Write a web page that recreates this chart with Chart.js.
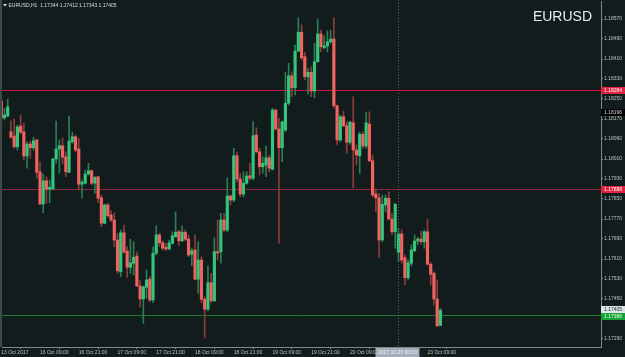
<!DOCTYPE html>
<html><head><meta charset="utf-8">
<style>
html,body{margin:0;padding:0;background:#121c1c;overflow:hidden}
#wrap{position:relative;width:625px;height:357px}
canvas{display:block}
</style>
<script src="https://cdn.jsdelivr.net/npm/chart.js@4.4.1/dist/chart.umd.min.js"></script>
</head><body><div id="wrap"><canvas id="c" width="625" height="357"></canvas></div>
<script>
// ---- data (EURUSD H1, 13 Oct 2017 21:00 -> 23 Oct 2017 13:00) ----
const symbolName = "EURUSD";
const headerText = "EURUSD,H1  1.17344 1.17412 1.17343 1.17405";
const opens = [1.18243,1.18175,1.18182,1.18119,1.18102,1.18059,1.18142,1.18119,1.18022,1.18070,
1.18055,1.18086,1.17959,1.17830,1.17923,1.17889,1.17890,1.18010,1.18050,1.18063,
1.18019,1.17957,1.18079,1.18099,1.18050,1.17909,1.17913,1.17950,1.17963,1.17913,
1.17939,1.17855,1.17753,1.17826,1.17786,1.17766,1.17686,1.17559,1.17715,1.17642,
1.17577,1.17593,1.17622,1.17502,1.17450,1.17497,1.17529,1.17446,1.17633,1.17706,
1.17675,1.17657,1.17650,1.17673,1.17699,1.17719,1.17683,1.17717,1.17690,1.17629,
1.17646,1.17529,1.17606,1.17449,1.17409,1.17515,1.17443,1.17639,1.17639,1.17766,
1.17726,1.17862,1.17846,1.18023,1.17930,1.17870,1.17913,1.17943,1.17933,1.18106,
1.18039,1.17979,1.17986,1.18015,1.17969,1.18206,1.18130,1.18055,1.18126,1.18233,
1.18343,1.18295,1.18442,1.18517,1.18419,1.18339,1.18357,1.18282,1.18399,1.18510,
1.18455,1.18462,1.18479,1.18490,1.18223,1.18086,1.18179,1.18143,1.18077,1.18155,
1.18046,1.18023,1.18109,1.18062,1.18150,1.18003,1.17870,1.17855,1.17686,1.17826,
1.17853,1.17770,1.17719,1.17637,1.17710,1.17615,1.17535,1.17593,1.17643,1.17682,
1.17690,1.17679,1.17719,1.17589,1.17553,1.17450,1.17344];
const highs = [1.18246,1.18213,1.18250,1.18163,1.18170,1.18146,1.18186,1.18153,1.18079,1.18082,
1.18097,1.18089,1.17999,1.17950,1.17939,1.17926,1.18013,1.18162,1.18086,1.18095,
1.18039,1.18182,1.18117,1.18106,1.18093,1.17926,1.17966,1.17993,1.17966,1.17939,
1.17942,1.17866,1.17830,1.17833,1.17803,1.17795,1.17713,1.17726,1.17746,1.17659,
1.17689,1.17679,1.17638,1.17526,1.17502,1.17566,1.17539,1.17659,1.17743,1.17713,
1.17683,1.17673,1.17686,1.17719,1.17799,1.17726,1.17743,1.17726,1.17706,1.17653,
1.17706,1.17679,1.17619,1.17459,1.17582,1.17553,1.17695,1.17766,1.17793,1.17793,
1.17935,1.17866,1.18053,1.18039,1.17953,1.17959,1.17959,1.17993,1.18159,1.18135,
1.18053,1.18019,1.18062,1.18026,1.18213,1.18209,1.18173,1.18162,1.18357,1.18393,
1.18359,1.18466,1.18575,1.18546,1.18437,1.18373,1.18379,1.18473,1.18570,1.18526,
1.18503,1.18523,1.18526,1.18575,1.18226,1.18186,1.18202,1.18159,1.18162,1.18259,
1.18066,1.18119,1.18119,1.18197,1.18199,1.18026,1.17890,1.17873,1.17866,1.17866,
1.17879,1.17793,1.17833,1.17733,1.17726,1.17626,1.17606,1.17666,1.17706,1.17697,
1.17722,1.17726,1.17770,1.17597,1.17559,1.17526,1.17412];
const lows = [1.18097,1.18166,1.18179,1.18093,1.18053,1.18046,1.18110,1.18006,1.17973,1.18013,
1.18046,1.17933,1.17827,1.17795,1.17833,1.17835,1.17889,1.17993,1.17953,1.17990,
1.17939,1.17955,1.18073,1.18039,1.17886,1.17853,1.17910,1.17946,1.17906,1.17873,
1.17835,1.17739,1.17750,1.17777,1.17759,1.17659,1.17553,1.17539,1.17633,1.17537,
1.17553,1.17546,1.17499,1.17417,1.17353,1.17453,1.17439,1.17435,1.17626,1.17659,
1.17646,1.17643,1.17646,1.17670,1.17697,1.17663,1.17679,1.17683,1.17619,1.17583,
1.17526,1.17473,1.17435,1.17294,1.17402,1.17435,1.17439,1.17606,1.17593,1.17719,
1.17719,1.17826,1.17839,1.17919,1.17859,1.17859,1.17909,1.17926,1.17926,1.18033,
1.17946,1.17953,1.17939,1.17959,1.17966,1.18126,1.17673,1.17999,1.18119,1.18226,
1.18259,1.18266,1.18439,1.18406,1.18326,1.18269,1.18259,1.18255,1.18397,1.18439,
1.18450,1.18439,1.18473,1.18213,1.18066,1.18079,1.18139,1.18033,1.18069,1.17895,
1.17986,1.17953,1.18053,1.18053,1.17999,1.17859,1.17799,1.17615,1.17679,1.17799,
1.17766,1.17706,1.17653,1.17599,1.17593,1.17506,1.17526,1.17583,1.17639,1.17666,
1.17669,1.17653,1.17586,1.17506,1.17426,1.17339,1.17343];
const closes = [1.18173,1.18186,1.18219,1.18097,1.18059,1.18138,1.18117,1.18022,1.18070,1.18055,
1.18083,1.17957,1.17830,1.17923,1.17889,1.17897,1.18010,1.18050,1.18063,1.18017,
1.17959,1.18082,1.18099,1.18046,1.17909,1.17917,1.17950,1.17963,1.17913,1.17937,
1.17853,1.17753,1.17826,1.17783,1.17766,1.17686,1.17563,1.17715,1.17637,1.17577,
1.17595,1.17617,1.17502,1.17450,1.17499,1.17526,1.17446,1.17633,1.17706,1.17675,
1.17653,1.17650,1.17675,1.17703,1.17717,1.17683,1.17717,1.17689,1.17626,1.17643,
1.17529,1.17606,1.17449,1.17409,1.17515,1.17443,1.17639,1.17634,1.17766,1.17726,
1.17862,1.17846,1.18023,1.17930,1.17870,1.17913,1.17942,1.17933,1.18103,1.18039,
1.17979,1.17993,1.18015,1.17973,1.18206,1.18130,1.18055,1.18159,1.18233,1.18343,
1.18295,1.18442,1.18517,1.18415,1.18339,1.18357,1.18282,1.18399,1.18510,1.18459,
1.18463,1.18479,1.18490,1.18223,1.18086,1.18179,1.18143,1.18077,1.18157,1.18046,
1.18026,1.18109,1.18062,1.18155,1.18003,1.17866,1.17855,1.17686,1.17829,1.17853,
1.17770,1.17719,1.17829,1.17710,1.17606,1.17535,1.17595,1.17646,1.17682,1.17690,
1.17679,1.17719,1.17589,1.17549,1.17450,1.17343,1.17405];

const yTickValues = [1.18570,1.18490,1.18410,1.18330,1.18250,1.18170,1.18090,1.18010,1.17930,
  1.17850,1.17770,1.17690,1.17610,1.17530,1.17450,1.17370,1.17290];
const xTickBars = [0,12,24,36,48,60,72,84,96,108,120,132];
const xTickLabels = ["13 Oct 2017","16 Oct 09:00","16 Oct 21:00","17 Oct 09:00","17 Oct 21:00",
  "18 Oct 09:00","18 Oct 21:00","19 Oct 09:00","19 Oct 21:00","20 Oct 09:00","20 Oct 21:00","23 Oct 09:00"];
const redLevels = [1.18284, 1.17888];
const greenLevel = 1.17386;
const lastPrice = 1.17405;
const crossBar = 123;
const crossTimeLabel = "2017.10.23 00:00";
const crossPrice = 1.18196;

// ---- styles ----
const BG = '#121c1c';
const UP = '#35c47c', DOWN = '#f0645f';
const UP_WICK = '#2a7d55', DOWN_WICK = '#8a3d3b';
const AXIS = '#7d8a8a', TXT = '#b9c3c3';
const FONT = '"Liberation Sans", Arial, sans-serif';

const bodies = opens.map((o, i) => ({ x: i, y: [o, closes[i]] }));
const wicks = lows.map((l, i) => ({ x: i, y: [l, highs[i]] }));
const bodyColors = opens.map((o, i) => closes[i] >= o ? UP : DOWN);
const wickColors = opens.map((o, i) => closes[i] >= o ? UP_WICK : DOWN_WICK);

function label(ctx, y, text, bg, fg) {
  const r = Math.floor(y);
  ctx.fillStyle = bg;
  ctx.fillRect(601, r - 3, 24, 7);
  ctx.fillStyle = fg;
  ctx.font = '5px ' + FONT;
  ctx.textAlign = 'left';
  ctx.textBaseline = 'middle';
  ctx.fillText(text, 604, r + 0.5);
}

const overlay = {
  id: 'overlay',
  beforeDraw(chart) {
    const c = chart.ctx;
    c.save(); c.fillStyle = BG; c.fillRect(0, 0, chart.width, chart.height); c.restore();
  },
  beforeDatasetsDraw(chart) {
    const c = chart.ctx, a = chart.chartArea, ys = chart.scales.y;
    c.save();
    c.lineWidth = 1;
    redLevels.forEach((p, k) => {
      const y = Math.floor(ys.getPixelForValue(p)) + 0.5;
      c.strokeStyle = k === 0 ? '#d3123e' : '#8e2440';
      c.beginPath(); c.moveTo(a.left, y); c.lineTo(a.right, y); c.stroke();
    });
    const gy = Math.floor(ys.getPixelForValue(greenLevel)) + 0.5;
    c.strokeStyle = '#1f7a2a';
    c.beginPath(); c.moveTo(a.left, gy); c.lineTo(a.right, gy); c.stroke();
    c.restore();
  },
  afterDraw(chart) {
    const c = chart.ctx, a = chart.chartArea, ys = chart.scales.y, xs = chart.scales.x;
    c.save();
    // left border strip
    c.fillStyle = '#3d4848';
    c.fillRect(0, 0, 2, a.bottom);
    // crosshair
    const cx = Math.round(xs.getPixelForValue(crossBar)) + 0.5;
    c.strokeStyle = '#5f6c6c'; c.lineWidth = 1; c.setLineDash([1, 2]);
    c.beginPath(); c.moveTo(cx, 0); c.lineTo(cx, a.bottom); c.stroke();
    c.setLineDash([]);
    // price labels on axis
    redLevels.forEach(p => label(c, ys.getPixelForValue(p), p.toFixed(5), '#e3223f', '#ffffff'));
    label(c, ys.getPixelForValue(crossPrice), crossPrice.toFixed(5), '#000000', '#c8d0d0');
    label(c, ys.getPixelForValue(lastPrice) - 1, lastPrice.toFixed(5), '#dfe5e5', '#202828');
    label(c, ys.getPixelForValue(greenLevel) + 1, greenLevel.toFixed(5), '#17a33a', '#e8ffe8');
    // crosshair time label
    c.font = '5px ' + FONT;
    const tw = c.measureText(crossTimeLabel).width;
    c.fillStyle = '#a5aeb8';
    c.fillRect(cx - 23, a.bottom + 1, tw + 5, 9);
    c.fillStyle = '#f2f4f6'; c.textAlign = 'left'; c.textBaseline = 'middle';
    c.fillText(crossTimeLabel, cx - 20.5, a.bottom + 5.5);
    // header
    c.fillStyle = '#d8dede';
    c.beginPath(); c.moveTo(3, 4); c.lineTo(7, 4); c.lineTo(5, 6.5); c.closePath(); c.fill();
    c.font = '5px ' + FONT; c.textBaseline = 'middle'; c.textAlign = 'left';
    c.fillText(headerText, 8.5, 5.5);
    // symbol title
    c.fillStyle = '#e6eded';
    c.font = '14px ' + FONT; c.textAlign = 'right'; c.textBaseline = 'alphabetic';
    c.fillText(symbolName, 592, 21);
    c.restore();
  }
};

function noPad(s) { s.paddingTop = 0; s.paddingBottom = 0; s.paddingLeft = 0; s.paddingRight = 0; }

new Chart(document.getElementById('c'), {
  type: 'bar',
  data: {
    datasets: [
      { data: bodies, backgroundColor: bodyColors, barThickness: 2.5, minBarLength: 1, grouped: false, order: 0 },
      { data: wicks, backgroundColor: wickColors, barThickness: 1, grouped: false, order: 1 }
    ]
  },
  options: {
    responsive: false, animation: false, devicePixelRatio: 1,
    layout: { padding: { left: 2, top: 1, right: 0, bottom: 0 } },
    plugins: { legend: { display: false }, tooltip: { enabled: false } },
    scales: {
      x: {
        type: 'linear', position: 'bottom', min: 0.232, max: 185.73, offset: false,
        afterBuildTicks: s => { s.ticks = xTickBars.map(v => ({ value: v })); },
        afterFit: s => { s.height = 10; noPad(s); },
        ticks: {
          autoSkip: false, maxRotation: 0, minRotation: 0, align: 'start', padding: 1,
          color: TXT, font: { family: FONT, size: 5 },
          callback: v => xTickLabels[xTickBars.indexOf(v)]
        },
        grid: { drawOnChartArea: false, drawTicks: true, tickLength: 2, color: AXIS },
        border: { display: true, color: AXIS }
      },
      y: {
        type: 'linear', position: 'right', min: 1.17258, max: 1.18642,
        afterBuildTicks: s => { s.ticks = yTickValues.map(v => ({ value: v })); },
        afterFit: s => { s.width = 24; noPad(s); },
        ticks: {
          padding: 1, color: TXT, font: { family: FONT, size: 5 },
          callback: v => Number(v).toFixed(5)
        },
        grid: { drawOnChartArea: false, drawTicks: true, tickLength: 2, color: AXIS },
        border: { display: true, color: AXIS }
      }
    }
  },
  plugins: [overlay]
});
</script>
</body></html>
